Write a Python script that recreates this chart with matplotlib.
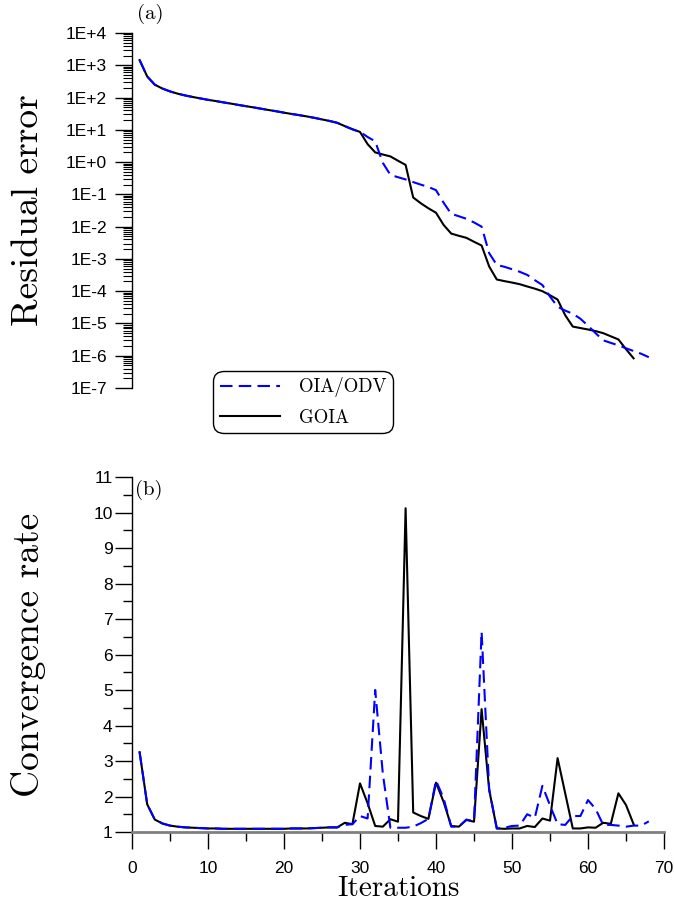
import numpy as np
import matplotlib
matplotlib.use("Agg")
import matplotlib.pyplot as plt
from matplotlib.ticker import FixedLocator, FixedFormatter, LogLocator, NullFormatter, MultipleLocator

# ---------------- data ----------------
iter_goia = list(range(1, 67))
iter_oia = list(range(1, 69))

res_goia = [1450, 450, 250, 190, 155, 132, 116, 104, 94, 85,
            78, 71, 65, 59, 54, 49.5, 45, 41, 37.5, 34,
            31, 28.5, 26, 23.5, 21, 18.8, 16.5, 13.0, 10.4, 8.6,
            3.6, 2.0, 1.72, 1.5, 1.1, 0.82, 0.08, 0.053, 0.037, 0.027,
            0.0113, 0.0061, 0.0052, 0.0045, 0.0034, 0.0026, 5.8e-4, 2.3e-4, 2.05e-4, 1.85e-4,
            1.65e-4, 1.4e-4, 1.2e-4, 1.0e-4, 7.5e-5, 5.5e-5, 1.8e-5, 8.0e-6, 7.2e-6, 6.5e-6,
            5.8e-6, 5.0e-6, 4.0e-6, 3.2e-6, 1.6e-6, 8.3e-7]

res_oia = [1450, 450, 250, 190, 155, 132, 116, 104, 94, 85,
           78, 71, 65, 59, 54, 49.5, 45, 41, 37.5, 34,
           31, 28.5, 26, 23.5, 21, 18.8, 16.5, 13.0, 10.4, 8.6,
           6.0, 4.4, 0.95, 0.40, 0.34, 0.29, 0.24, 0.20, 0.17, 0.135,
           0.055, 0.025, 0.021, 0.0175, 0.0135, 0.010, 0.0015, 6.5e-4, 5.7e-4, 4.8e-4,
           4.0e-4, 3.2e-4, 2.2e-4, 1.55e-4, 6.8e-5, 3.3e-5, 2.5e-5, 2.0e-5, 1.4e-5, 8.5e-6,
           5.0e-6, 3.0e-6, 2.5e-6, 2.1e-6, 1.7e-6, 1.4e-6, 1.15e-6, 9.0e-7]

rate_goia = [3.25, 1.78, 1.35, 1.24, 1.18, 1.15, 1.13, 1.12, 1.11, 1.10,
             1.10, 1.09, 1.09, 1.09, 1.09, 1.09, 1.09, 1.09, 1.09, 1.09,
             1.10, 1.10, 1.10, 1.11, 1.12, 1.13, 1.13, 1.26, 1.22, 2.37,
             1.81, 1.17, 1.15, 1.36, 1.29, 10.12, 1.55, 1.45, 1.37, 2.39,
             1.85, 1.17, 1.15, 1.34, 1.29, 4.46, 2.18, 1.10, 1.09, 1.10,
             1.10, 1.17, 1.14, 1.38, 1.32, 3.08, 2.09, 1.10, 1.10, 1.13,
             1.12, 1.26, 1.23, 2.09, 1.76, 1.22]

rate_oia = [3.25, 1.78, 1.35, 1.24, 1.18, 1.15, 1.13, 1.12, 1.11, 1.10,
            1.10, 1.09, 1.09, 1.09, 1.09, 1.09, 1.09, 1.09, 1.09, 1.09,
            1.10, 1.10, 1.10, 1.11, 1.12, 1.13, 1.13, 1.20, 1.22, 1.45,
            1.38, 5.00, 2.65, 1.12, 1.12, 1.12, 1.15, 1.25, 1.37, 2.45,
            1.95, 1.15, 1.15, 1.35, 1.30, 6.64, 2.20, 1.10, 1.12, 1.17,
            1.18, 1.50, 1.40, 2.30, 1.75, 1.22, 1.20, 1.45, 1.45, 1.90,
            1.65, 1.20, 1.20, 1.18, 1.15, 1.18, 1.18, 1.30]

top_tick_vals = [1e-7, 1e-6, 1e-5, 1e-4, 1e-3, 1e-2, 1e-1, 1e0, 1e1, 1e2, 1e3, 1e4]
top_tick_labels = ["1E-7", "1E-6", "1E-5", "1E-4", "1E-3", "1E-2", "1E-1",
                   "1E+0", "1E+1", "1E+2", "1E+3", "1E+4"]
bottom_yticks = list(range(1, 12))
bottom_xticks = list(range(0, 71, 10))

labels = ["OIA/ODV", "GOIA"]

# ---------------- style ----------------
SERIF = ["cmr10", "DejaVu Serif"]
SANS = ["Liberation Sans", "DejaVu Sans"]
TICKFS = 12.5
BLUE = "#0000ff"
LW = 1.5
DASH = (0, (6, 3))

fig = plt.figure(figsize=(6.74, 9.05), dpi=100)
W, H = 674, 905
ax1 = fig.add_axes([132 / W, 1 - 388 / H, 532 / W, 355 / H])
ax2 = fig.add_axes([132 / W, 1 - 832 / H, 532 / W, 355 / H])

# ---------- top panel ----------
l1, = ax1.plot(iter_oia, res_oia, color=BLUE, lw=LW, linestyle=DASH, zorder=3)
l2, = ax1.plot(iter_goia, res_goia, color="black", lw=LW, zorder=2)
ax1.set_yscale("log")
ax1.set_xlim(0, 70)
ax1.set_ylim(1e-7, 1e4)
for s in ["top", "right", "bottom"]:
    ax1.spines[s].set_visible(False)
ax1.spines["left"].set_linewidth(1.0)
ax1.set_xticks([])
ax1.yaxis.set_major_locator(FixedLocator(top_tick_vals))
ax1.yaxis.set_major_formatter(FixedFormatter(top_tick_labels))
ax1.yaxis.set_minor_locator(LogLocator(base=10, subs=np.arange(2, 10), numticks=100))
ax1.yaxis.set_minor_formatter(NullFormatter())
ax1.tick_params(axis="y", which="major", direction="out", length=12, width=1.0, pad=6)
ax1.tick_params(axis="y", which="minor", direction="out", length=6.5, width=0.8)
for t in ax1.get_yticklabels():
    t.set_fontfamily(SANS)
    t.set_fontsize(TICKFS)
ax1.set_ylabel("Residual error", fontfamily=SERIF, fontsize=27, va="center")
ax1.yaxis.set_label_coords(-0.195, 0.5)
fig.text(150 / W, 1 - 14 / H, "(a)", fontfamily=SERIF, fontsize=15, ha="center", va="center")

leg = fig.legend([l1, l2], labels, loc="center",
                 bbox_to_anchor=(303 / W, 1 - 402 / H), bbox_transform=fig.transFigure,
                 prop={"family": SERIF, "size": 13.5}, frameon=True, fancybox=True,
                 edgecolor="black", handlelength=3.2, handletextpad=1.0,
                 labelspacing=0.6, borderpad=0.35, borderaxespad=0)
leg.get_frame().set_linewidth(1.0)
leg.get_frame().set_alpha(1)
leg.get_frame().set_boxstyle("round,pad=0,rounding_size=0.55")

# ---------- bottom panel ----------
ax2.plot(iter_oia, rate_oia, color=BLUE, lw=LW, linestyle=DASH, zorder=3)
ax2.plot(iter_goia, rate_goia, color="black", lw=LW, zorder=2)
ax2.set_xlim(0, 70)
ax2.set_ylim(1, 11)
for s in ["top", "right"]:
    ax2.spines[s].set_visible(False)
ax2.spines["left"].set_linewidth(1.0)
ax2.spines["bottom"].set_linewidth(2.0)
ax2.spines["bottom"].set_color("#808080")
ax2.set_xticks(bottom_xticks)
ax2.set_yticks(bottom_yticks)
ax2.xaxis.set_minor_locator(MultipleLocator(5))
ax2.yaxis.set_minor_locator(MultipleLocator(0.5))
ax2.tick_params(which="major", direction="out", length=12, width=1.0, pad=9)
ax2.tick_params(axis="y", which="major", pad=2)
ax2.tick_params(which="minor", direction="out", length=6.5, width=1.0)
for t in ax2.get_xticklabels() + ax2.get_yticklabels():
    t.set_fontfamily(SANS)
    t.set_fontsize(TICKFS)
ax2.set_ylabel("Convergence rate", fontfamily=SERIF, fontsize=27, va="center")
ax2.yaxis.set_label_coords(-0.195, 0.5)
ax2.set_xlabel("Iterations", fontfamily=SERIF, fontsize=21, va="baseline")
ax2.xaxis.set_label_coords(0.5, -0.181)
fig.text(149 / W, 1 - 490 / H, "(b)", fontfamily=SERIF, fontsize=15, ha="center", va="center")

fig.savefig("out.png", dpi=100)
